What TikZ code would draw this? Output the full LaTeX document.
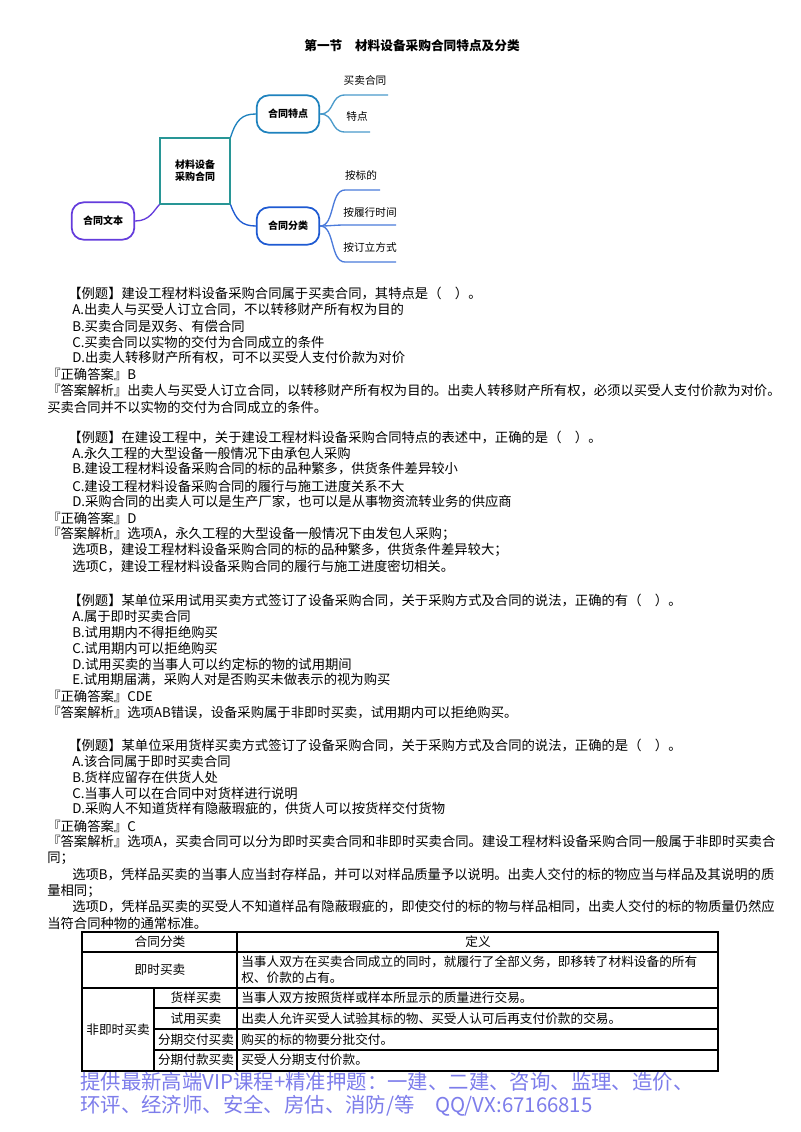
\documentclass[tikz,border=0pt]{standalone}
\usepackage{fontspec}
\setmainfont{Noto Sans CJK SC}
\begin{document}
\begin{tikzpicture}[x=0.75pt,y=-0.75pt,
  tx/.style={anchor=west,inner sep=0pt,font=\fontsize{10}{12}\selectfont},
  mm/.style={font=\fontsize{7.5}{9}\selectfont\bfseries},
  lf/.style={font=\fontsize{8}{9}\selectfont},
  rbox/.style={draw,line width=1.3pt,rounded corners=9pt,minimum width=47pt,minimum height=28pt,mm},
  br/.style={line width=1pt},
  cell/.style={font=\fontsize{9.5}{12}\selectfont,inner sep=0pt}]
\useasboundingbox (0,0) rectangle (800,1132);
\fill[white] (0,0) rectangle (800,1132);
% title
\node[font=\fontsize{9.5}{11}\selectfont\bfseries] (title) at (412,46) {第一节\quad 材料设备采购合同特点及分类};
% mind map
\definecolor{teal1}{RGB}{40,150,150}
\definecolor{tb}{RGB}{30,130,190}
\definecolor{bl}{RGB}{30,90,210}
\definecolor{pu}{RGB}{100,60,220}
\node[draw=teal1,line width=1.3pt,minimum width=52pt,minimum height=49pt,mm,align=center] (c) at (195,171) {材料设备\\采购合同};
\node[rbox,draw=tb] (f) at (288,114) {合同特点};
\node[rbox,draw=bl] (k) at (288,226) {合同分类};
\node[rbox,draw=pu] (t) at (103,221) {合同文本};
\draw[br,tb] (c.north east) .. controls (236,120) and (242,114) .. (f.west);
\draw[br,bl] (c.south east) .. controls (236,220) and (242,226) .. (k.west);
\draw[br,pu] (t.east) .. controls (150,221) and (154,210) .. (c.south west);
\node[lf] (l1) at (365,80) {买卖合同};
\node[lf] (l2) at (357,116) {特点};
\node[lf] (l3) at (361,175) {按标的};
\node[lf] (l4) at (370,212) {按履行时间};
\node[lf] (l5) at (370,247) {按订立方式};
\coordinate (e1) at (388,95); \coordinate (e2) at (370,132);
\coordinate (e3) at (380,190); \coordinate (e4) at (396,225); \coordinate (e5) at (396,262);
\draw[br,tb!80] (f.east) .. controls (335,114) and (330,95) .. (345,95) -- (e1);
\draw[br,tb!80] (f.east) .. controls (335,114) and (330,132) .. (345,132) -- (e2);
\draw[br,bl!80] (k.east) .. controls (335,226) and (330,190) .. (345,190) -- (e3);
\draw[br,bl!80] (k.east) .. controls (330,226) and (335,225) .. (345,225) -- (e4);
\draw[br,bl!80] (k.east) .. controls (335,226) and (330,262) .. (345,262) -- (e5);
% body text
\foreach \y/\x/\s in {
294/68/{【例题】建设工程材料设备采购合同属于买卖合同，其特点是（\quad ）。},
310/72/{A.出卖人与买受人订立合同，不以转移财产所有权为目的},
326/72/{B.买卖合同是双务、有偿合同},
342/72/{C.买卖合同以实物的交付为合同成立的条件},
358/72/{D.出卖人转移财产所有权，可不以买受人支付价款为对价},
374/47/{『正确答案』B},
391/47/{『答案解析』出卖人与买受人订立合同，以转移财产所有权为目的。出卖人转移财产所有权，必须以买受人支付价款为对价。},
407/47/{买卖合同并不以实物的交付为合同成立的条件。},
437/68/{【例题】在建设工程中，关于建设工程材料设备采购合同特点的表述中，正确的是（\quad ）。},
453/72/{A.永久工程的大型设备一般情况下由承包人采购},
469/72/{B.建设工程材料设备采购合同的标的品种繁多，供货条件差异较小},
486/72/{C.建设工程材料设备采购合同的履行与施工进度关系不大},
502/72/{D.采购合同的出卖人可以是生产厂家，也可以是从事物资流转业务的供应商},
518/47/{『正确答案』D},
534/47/{『答案解析』选项A，永久工程的大型设备一般情况下由发包人采购；},
550/72/{选项B，建设工程材料设备采购合同的标的品种繁多，供货条件差异较大；},
567/72/{选项C，建设工程材料设备采购合同的履行与施工进度密切相关。},
600/68/{【例题】某单位采用试用买卖方式签订了设备采购合同，关于采购方式及合同的说法，正确的有（\quad ）。},
616/72/{A.属于即时买卖合同},
632/72/{B.试用期内不得拒绝购买},
648/72/{C.试用期内可以拒绝购买},
664/72/{D.试用买卖的当事人可以约定标的物的试用期间},
680/72/{E.试用期届满，采购人对是否购买未做表示的视为购买},
696/47/{『正确答案』CDE},
713/47/{『答案解析』选项AB错误，设备采购属于非即时买卖，试用期内可以拒绝购买。},
745/68/{【例题】某单位采用货样买卖方式签订了设备采购合同，关于采购方式及合同的说法，正确的是（\quad ）。},
761/72/{A.该合同属于即时买卖合同},
777/72/{B.货样应留存在供货人处},
793/72/{C.当事人可以在合同中对货样进行说明},
809/72/{D.采购人不知道货样有隐蔽瑕疵的，供货人可以按货样交付货物},
826/47/{『正确答案』C},
842/47/{『答案解析』选项A，买卖合同可以分为即时买卖合同和非即时买卖合同。建设工程材料设备采购合同一般属于非即时买卖合},
858/47/{同；},
875/72/{选项B，凭样品买卖的当事人应当封存样品，并可以对样品质量予以说明。出卖人交付的标的物应当与样品及其说明的质},
891/47/{量相同；},
907/72/{选项D，凭样品买卖的买受人不知道样品有隐蔽瑕疵的，即使交付的标的物与样品相同，出卖人交付的标的物质量仍然应},
923/47/{当符合同种物的通常标准。}}
  \node[tx] at (\x,\y) {\s};
% table
\draw[line width=1pt] (82,932) rectangle (718,1071);
\draw[line width=0.8pt] (237,932) -- (237,1071) (82,952) -- (718,952) (82,988) -- (718,988)
  (154,988) -- (154,1071) (154,1008) -- (718,1008) (154,1029) -- (718,1029) (154,1050) -- (718,1050);
\node[cell] (h1) at (160,942) {合同分类};
\node[cell] (h2) at (478,942) {定义};
\node[cell] (r1) at (160,970) {即时买卖};
\node[cell,anchor=north west,align=left] (d1) at (241,955) {当事人双方在买卖合同成立的同时，就履行了全部义务，即移转了材料设备的所有\\权、价款的占有。};
\node[cell] (r2) at (118,1030) {非即时买卖};
\node[cell] (s1) at (196,998) {货样买卖};
\node[cell] (s2) at (196,1019) {试用买卖};
\node[cell] (s3) at (196,1040) {分期交付买卖};
\node[cell] (s4) at (196,1060) {分期付款买卖};
\node[cell,anchor=west] (d2) at (241,998) {当事人双方按照货样或样本所显示的质量进行交易。};
\node[cell,anchor=west] (d3) at (241,1019) {出卖人允许买受人试验其标的物、买受人认可后再支付价款的交易。};
\node[cell,anchor=west] (d4) at (241,1040) {购买的标的物要分批交付。};
\node[cell,anchor=west] (d5) at (241,1060) {买受人分期支付价款。};
% footer
\definecolor{wm}{RGB}{125,125,235}
\node[tx,font=\fontsize{15.3}{17}\selectfont,text=wm] (w1) at (80,1082) {提供最新高端VIP课程+精准押题：一建、二建、咨询、监理、造价、};
\node[tx,font=\fontsize{15.3}{17}\selectfont,text=wm] (w2) at (80,1106) {环评、经济师、安全、房估、消防/等\quad QQ/VX:67166815};
\end{tikzpicture}
\end{document}
